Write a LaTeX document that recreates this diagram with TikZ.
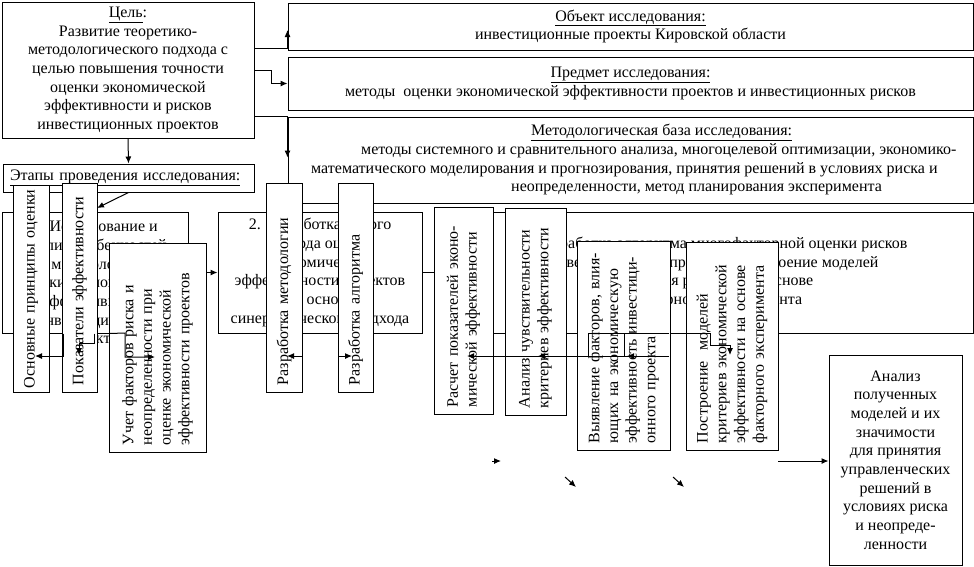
\documentclass[tikz,border=0pt]{standalone}
\usepackage{fontspec}
\setmainfont{Liberation Serif}
\usetikzlibrary{arrows.meta, positioning}
\tikzset{
  box/.style={draw, fill=white, line width=1pt, inner sep=0pt, align=center},
  vbox/.style 2 args={draw, fill=white, line width=1pt, rotate=90, align=left,
    inner xsep=7pt, inner ysep=0pt, text width=#1, minimum height=#2},
  link/.style={line width=1pt, -{Latex[length=7pt,width=6pt]}},
  wire/.style={line width=1pt}
}

\begin{document}
\begin{tikzpicture}[x=1pt, y=-1pt, font=\fontsize{16}{18.7}\selectfont]
\useasboundingbox (0,0) rectangle (974,566);

% goal and frame of the research
\node[box, minimum width=252pt, minimum height=136pt] (goal) at (128,70)
  {\underline{Цель}:\\Развитие теоретико-\\методологического подхода с\\целью повышения точности\\оценки экономической\\эффективности и рисков\\инвестиционных проектов};
\node[box, minimum width=685pt, minimum height=47pt] (obj) at (630.5,26.5)
  {\underline{Объект исследования:}\\инвестиционные проекты Кировской области};
\node[box, minimum width=685pt, minimum height=53pt] (subj) at (630.5,83.5)
  {\underline{Предмет исследования:}\\методы\ \ оценки экономической эффективности проектов и инвестиционных рисков};
\node[box, minimum width=685pt, minimum height=86pt] (base) at (630.5,160) {};
\node[align=left, anchor=north west, inner sep=0pt] (basetext) at (311,124)
  {\hspace*{220pt}\underline{Методологическая база исследования:}\\
   \hspace*{50pt}методы системного и сравнительного анализа, многоцелевой оптимизации, экономико-\\
   математического моделирования и прогнозирования, принятия решений в условиях риска и\\
   \hspace*{200pt}неопределенности, метод планирования эксперимента};
\node[box, minimum width=251pt, minimum height=28pt, text width=237pt, align=left] (stages) at (128.5,178)
  {\underline{Этапы проведения исследования:}};

% stages
\node[box, minimum width=186pt, minimum height=121pt] (st1) at (95,272.5) {};
\node[align=center, anchor=north, inner sep=0pt] (st1text) at (95,221)
  {1. Исследование и\\анализ особенностей\\методологий\\оценки экономической\\эффективности\\инвестиционных\\проектов};
\node[box, minimum width=204pt, minimum height=121pt] (st2) at (320,272.5)
  {2. Разработка нового\\подхода оценки\\экономической\\эффективности проектов\\на основе\\синергетического подхода};
\node[box, minimum width=518pt, minimum height=121pt] (st3) at (714,272.5)
  {3. Разработка алгоритма многофакторной оценки рисков\\инвестиционных проектов, построение моделей\\принятия решений на основе\\факторного эксперимента};
\node[box, minimum width=133pt, minimum height=210pt] (final) at (895.5,460)
  {Анализ\\полученных\\моделей и их\\значимости\\для принятия\\управленческих\\решений в\\условиях риска\\и неопреде-\\ленности};

\draw[link] (goal.east |- 0,48) -- (obj.west |- 0,48) -- (obj.west |- 0,30);
\draw[link] (goal.east) -- (271,70) -- (271,83.5) -- (subj.west);
\draw[link] (goal.east |- base.north) -- (base.north west) -- ++(0,41);
\draw[link] (goal.south) -- (stages.north);
\draw[link] (st1.east) -- (st2.west);
\draw[link] (st2.east) -- (st3.west);

% tasks of the stages
\node[vbox={199pt}{36pt}, inner xsep=4pt] (v1) at (31,288.5) {Основные принципы оценки};
\node[vbox={195pt}{35pt}] (v2) at (79.5,287.5) {Показатели эффективности};
\node[vbox={195pt}{97pt}] (v3) at (157.5,347.5)
  {Учет факторов риска и\\неопределенности при\\оценке экономической\\эффективности проектов};
\node[vbox={195pt}{36pt}] (v4) at (284,287.5) {Разработка методологии};
\node[vbox={195pt}{35pt}] (v5) at (355.5,287.5) {Разработка алгоритма};
\node[vbox={193pt}{59pt}] (v6) at (463.5,310.5)
  {Расчет показателей эконо-\\мической эффективности};
\node[vbox={193pt}{61pt}] (v7) at (535.5,311.5)
  {Анализ чувствительности\\критериев эффективности};
\node[vbox={195pt}{93pt}] (v8) at (623.5,345.5)
  {Выявление факторов, влия-\\ющих на экономическую\\эффективность инвестици-\\онного проекта};
\node[vbox={194pt}{92pt}] (v9) at (732,346)
  {Построение~ моделей\\критериев экономической\\эффективности на основе\\факторного эксперимента};

\draw[link] (stages.south) -- (97,208);
\draw[link] (st1.south -| 63,0) -- (63,356) -- (35,356);
\draw[link] (st1.south -| 94,0) -- (94,343) -- (79,343) -- (79,355);
\draw[link] (st1.south -| 109,0) -- (125,333) -- (125,357) -- (155,357);
\draw[link] (302,356) -- (287,356);
\draw[link] (338,356) -- (352,356);
\draw[wire] (669,333) -- (588,333) -- (588,356);
\draw[wire] (624,333) -- (624,356);
\draw[link] (669,356) -- (467,356);
\draw[link] (560,356) -- (538,356);
\draw[link] (650,356) -- (627,356);
\draw[link] (686,333) -- (710,333) -- (710,345) -- (730,345) -- (730,355);
\draw[link] (492,461) -- (501,461);
\draw[link] (565,477) -- (576,487);
\draw[link] (673,477) -- (684,487);
\draw[link] (778,461) -- (final.west |- 0,461);
\end{tikzpicture}
\end{document}
